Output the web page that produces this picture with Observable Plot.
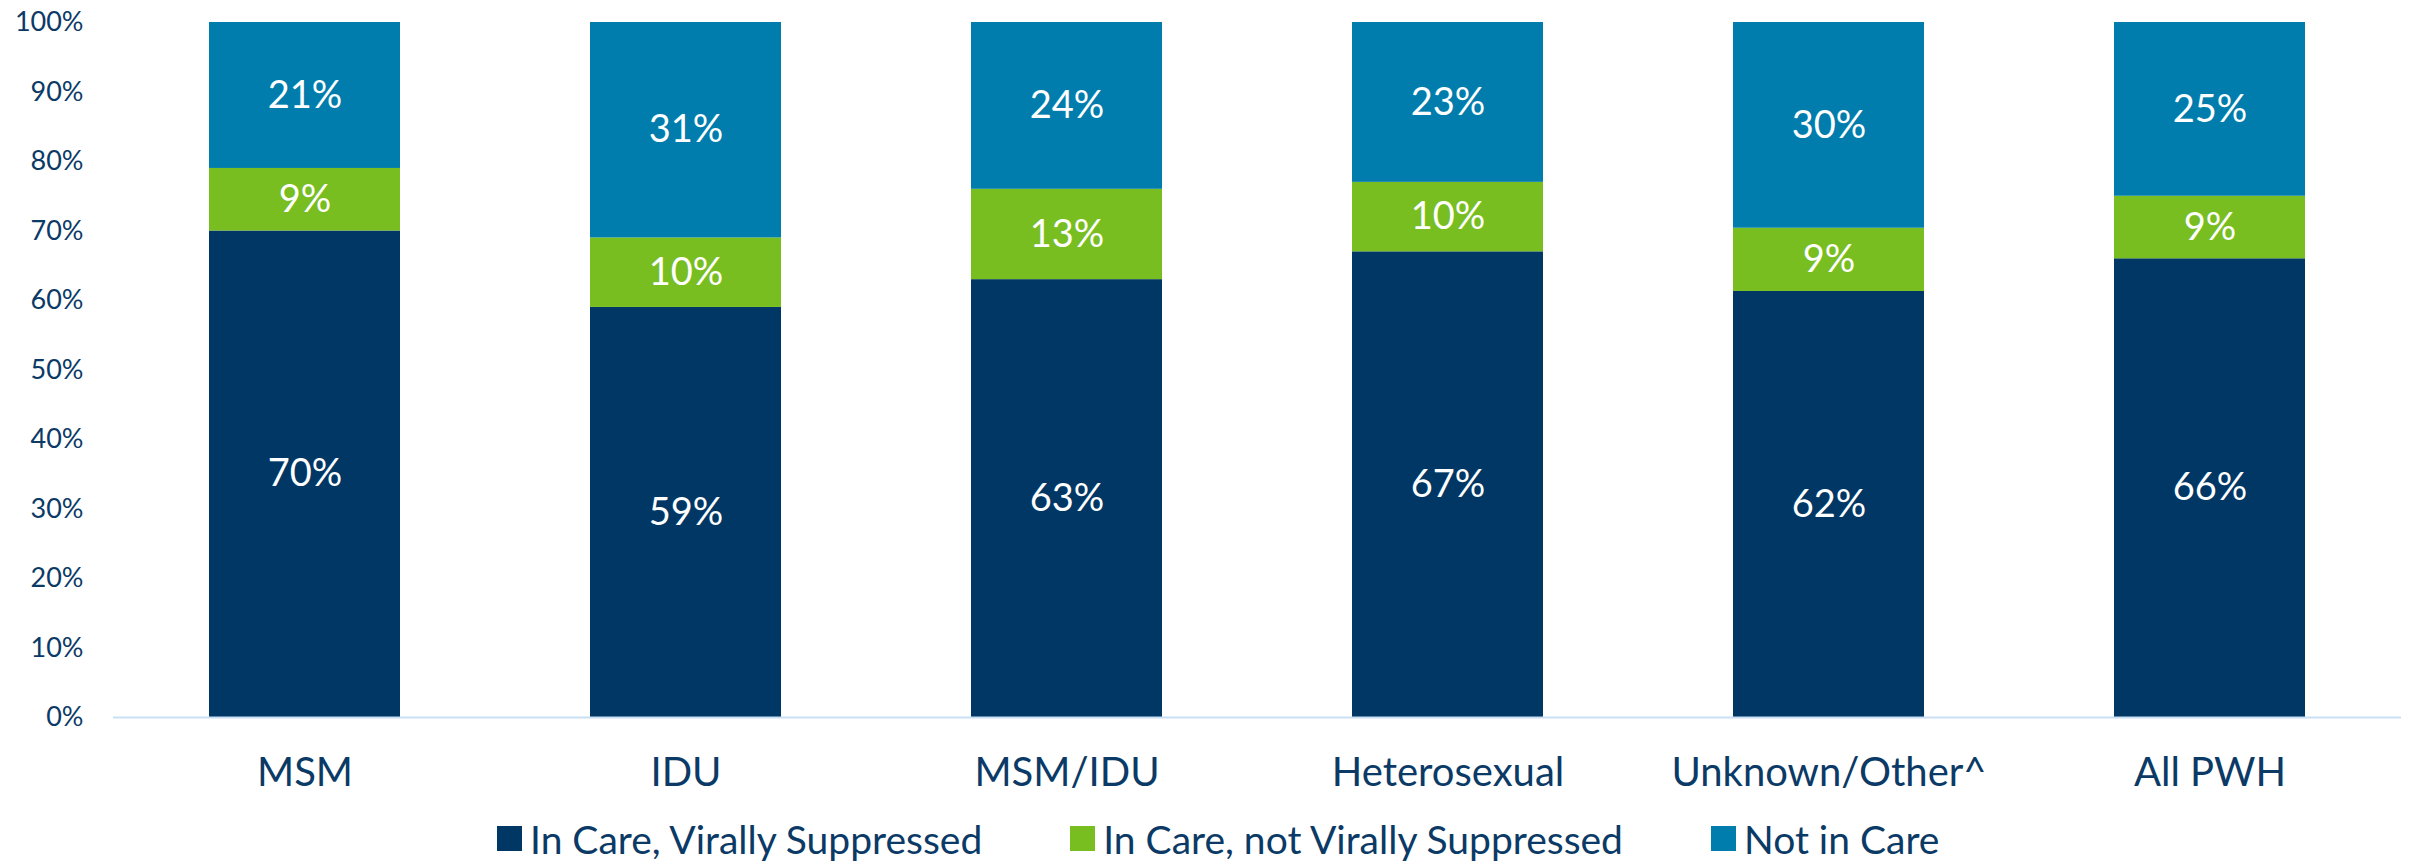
<!DOCTYPE html>
<html>
<head>
<meta charset="utf-8">
<script src="https://cdn.jsdelivr.net/npm/d3@7"></script>
<script src="https://cdn.jsdelivr.net/npm/@observablehq/plot@0.6"></script>
<style>
  html, body { margin: 0; padding: 0; background: #fff; }
  body { width: 2413px; height: 867px; overflow: hidden; font-family: Lato, "Noto Sans", sans-serif; }
  #legend { display: flex; align-items: center; padding-left: 497px; gap: 88px; height: 57px; color: #0b3a66; font-size: 39px; }
  #legend .item { display: flex; align-items: center; gap: 8px; }
  #legend .sw { width: 25px; height: 25px; display: inline-block; }
</style>
</head>
<body>
<div id="chart"></div>
<div id="legend"></div>
<script>
const categories = ["MSM", "IDU", "MSM/IDU", "Heterosexual", "Unknown/Other^", "All PWH"];
const seriesNames = ["In Care, Virally Suppressed", "In Care, not Virally Suppressed", "Not in Care"];
const seriesColors = ["#003764", "#78be20", "#007dac"];
// segment heights (percent)
const suppressed    = [70, 59, 63, 67, 61.3, 66];
const notSuppressed = [9, 10, 13, 10, 9.1, 9];
const notInCare     = [21, 31, 24, 23, 29.6, 25];
// printed labels
const suppressedLabels    = ["70%", "59%", "63%", "67%", "62%", "66%"];
const notSuppressedLabels = ["9%", "10%", "13%", "10%", "9%", "9%"];
const notInCareLabels     = ["21%", "31%", "24%", "23%", "30%", "25%"];
const yTicks = [0, 10, 20, 30, 40, 50, 60, 70, 80, 90, 100];

const seriesValues = [suppressed, notSuppressed, notInCare];
const seriesLabels = [suppressedLabels, notSuppressedLabels, notInCareLabels];
const rows = [];
categories.forEach((c, i) => {
  let base = 0;
  seriesNames.forEach((s, k) => {
    const v = seriesValues[k][i];
    rows.push({cat: c, series: s, y1: base, y2: base + v, ym: base + v / 2, label: seriesLabels[k][i]});
    base += v;
  });
});

const navy = "#0b3a66";
const chart = Plot.plot({
  width: 2413,
  height: 810,
  marginTop: 22,
  marginBottom: 93,
  marginLeft: 113,
  marginRight: 12,
  style: {fontFamily: "Lato, 'Noto Sans', sans-serif", color: navy, background: "#fff"},
  x: {domain: categories, paddingInner: 0.5, paddingOuter: 0.25, label: null},
  y: {domain: [0, 100], label: null},
  color: {domain: seriesNames, range: seriesColors},
  marks: [
    Plot.barY(rows, {x: "cat", y1: "y1", y2: "y2", fill: "series"}),
    Plot.ruleY([0], {stroke: "#c9dff3", strokeWidth: 2}),
    Plot.text(rows, {x: "cat", y: "ym", text: "label", fill: "#ffffff", fontSize: 38}),
    Plot.axisY(yTicks, {tickSize: 0, tickPadding: 30, fontSize: 27, tickFormat: d => d + "%", label: null}),
    Plot.axisX({tickSize: 0, tickPadding: 40, fontSize: 40, label: null})
  ]
});
document.getElementById("chart").appendChild(chart);

const legend = document.getElementById("legend");
seriesNames.forEach((s, k) => {
  const item = document.createElement("div");
  item.className = "item";
  const sw = document.createElement("span");
  sw.className = "sw";
  sw.style.background = seriesColors[k];
  const t = document.createElement("span");
  t.textContent = s;
  item.appendChild(sw);
  item.appendChild(t);
  legend.appendChild(item);
});
</script>
</body>
</html>
